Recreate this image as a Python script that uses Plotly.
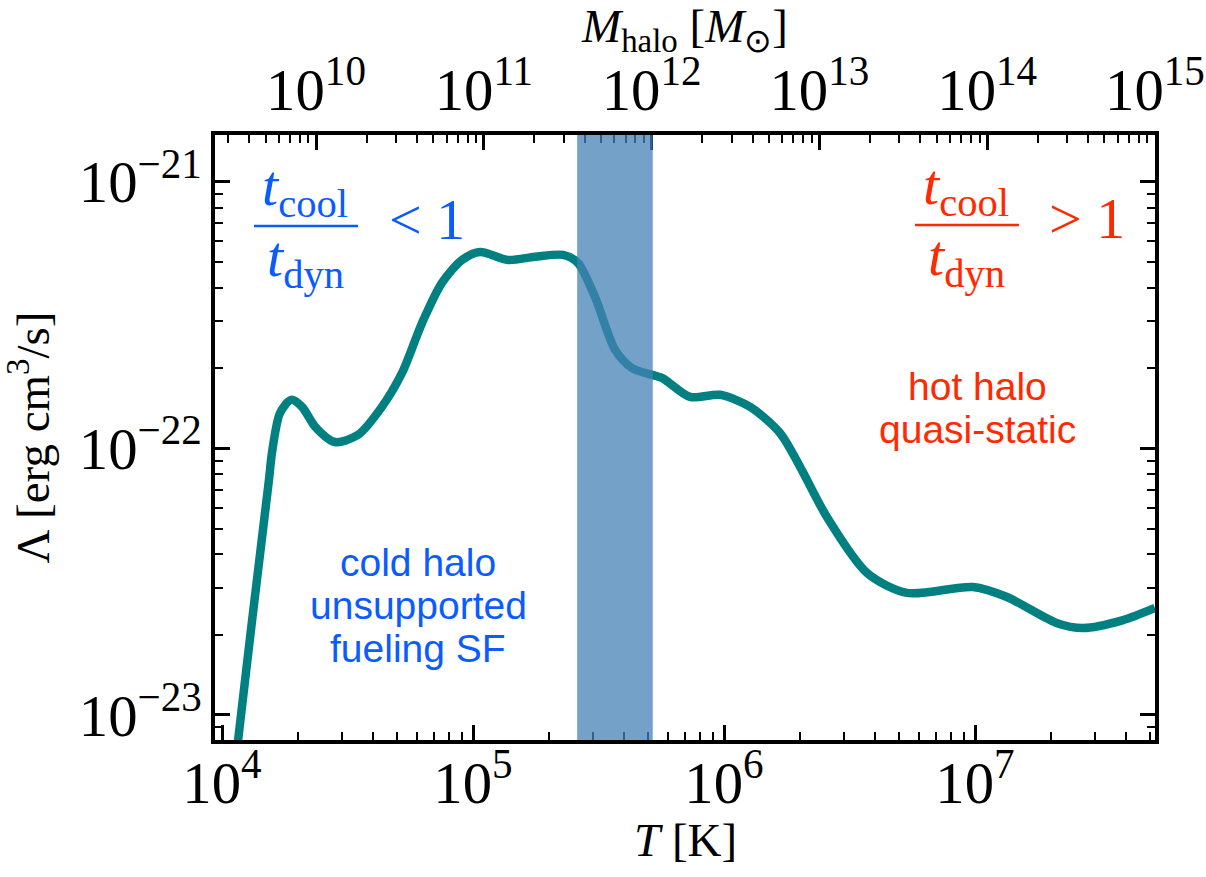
import plotly.graph_objects as go

# ---- data ----
T_K = [1.122e4, 1.159e4, 1.318e4, 1.538e4, 1.581e4, 1.702e4, 1.884e4, 2.084e4,
       2.350e4, 2.818e4, 3.483e4, 4.335e4, 5.212e4, 6.266e4, 7.516e4, 9.036e4,
       1.067e5, 1.377e5, 1.766e5, 2.286e5, 2.618e5, 3.062e5, 3.681e5, 4.295e5,
       5.164e5, 5.662e5, 7.328e5, 9.638e5, 1.271e6, 1.671e6, 2.009e6, 2.570e6,
       3.715e6, 5.358e6, 9.817e6, 1.340e7, 2.123e7, 2.692e7, 3.890e7, 5.212e7]
Lambda = [6.22e-24, 8.05e-24, 2.27e-23, 7.62e-23, 9.62e-23, 1.358e-22, 1.521e-22, 1.432e-22,
          1.205e-22, 1.057e-22, 1.125e-22, 1.432e-22, 1.919e-22, 2.958e-22, 4.178e-22, 5.093e-22,
          5.458e-22, 5.093e-22, 5.236e-22, 5.321e-22, 4.966e-22, 3.698e-22, 2.344e-22, 2.004e-22,
          1.888e-22, 1.841e-22, 1.560e-22, 1.589e-22, 1.432e-22, 1.143e-22, 8.53e-23, 5.53e-23,
          3.41e-23, 2.87e-23, 3.02e-23, 2.77e-23, 2.21e-23, 2.12e-23, 2.27e-23, 2.52e-23]

band_T = [2.6e5, 5.2e5]            # transition band in T [K]
T_range_log = [3.972, 7.717]       # log10 T axis limits
L_range_log = [-23.094, -20.824]   # log10 Lambda axis limits
M_range_log = [9.398, 15.0]        # log10 M_halo axis limits (top)

left_lines = ["cold halo", "unsupported", "fueling SF"]
right_lines = ["hot halo", "quasi-static"]

BLUE = "#0b5cff"
RED = "#ff2a00"
SERIF = "Liberation Serif"
SANS = "Liberation Sans"

W, H = 1206, 877
L, R, T, B = 215, 51, 135, 137
PW, PH = W - L - R, H - T - B


def px(x, y):
    return (x - L) / PW, (H - B - y) / PH


fig = go.Figure()
fig.add_trace(go.Scatter(x=T_K, y=Lambda, mode="lines",
                         line=dict(color="#008080", width=8.5, shape="spline", smoothing=0.8),
                         showlegend=False, hoverinfo="skip"))
fig.add_trace(go.Scatter(x=[10 ** M_range_log[0], 10 ** M_range_log[1]], y=[None, None],
                         xaxis="x2", mode="lines", showlegend=False, hoverinfo="skip"))

fig.add_shape(type="rect", xref="x", yref="paper", x0=band_T[0], x1=band_T[1], y0=0, y1=1,
              fillcolor="rgba(70,130,180,0.75)", line=dict(width=0), layer="above")

axis_common = dict(
    type="log", showgrid=False, zeroline=False, showline=True, linecolor="black", linewidth=3.5,
    ticks="inside", ticklen=15, tickwidth=2.5, tickcolor="black", dtick=1,
    exponentformat="power", tickfont=dict(family=SERIF, size=47, color="black"),
    minor=dict(ticks="inside", ticklen=8, tickwidth=2, tickcolor="black", dtick="D1", showgrid=False),
)

fig.update_layout(
    width=W, height=H, margin=dict(l=L, r=R, t=T, b=B, autoexpand=False),
    paper_bgcolor="white", plot_bgcolor="white",
    xaxis=dict(axis_common, range=T_range_log, mirror=False, ticklabelstandoff=-9),
    xaxis2=dict(axis_common, range=M_range_log, overlaying="x", side="top", anchor="y",
                title=dict(text="<i>M</i><sub>halo</sub> [<i>M</i><sub>⊙</sub>]",
                           font=dict(family=SERIF, size=47, color="black"), standoff=8)),
    yaxis=dict(axis_common, range=L_range_log, mirror="ticks",
               title=dict(text="Λ [erg cm<sup>3</sup>/s]", font=dict(family=SERIF, size=47, color="black"),
                          standoff=18)),
)

annos = []

# x-axis title placed as an annotation
tx, ty = px(690, 840)
annos.append(dict(x=0.5, y=ty, xref="paper", yref="paper", xanchor="center", yanchor="middle",
                  text="<i>T</i> [K]", showarrow=False, font=dict(family=SERIF, size=47, color="black")))


def frac(cx, line_x0, line_x1, line_y, rel_text, rel_cx, rel_y, color):
    x, y = px(cx, line_y)
    annos.append(dict(x=x, y=y, xref="paper", yref="paper", xanchor="center", yanchor="bottom",
                      yshift=-2, text="<i>t</i><sub>cool</sub>",
                      showarrow=False, font=dict(family=SERIF, size=58, color=color)))
    annos.append(dict(x=x, y=y, xref="paper", yref="paper", xanchor="center", yanchor="top",
                      yshift=4, text="<i>t</i><sub>dyn</sub>",
                      showarrow=False, font=dict(family=SERIF, size=58, color=color)))
    rx, ry = px(rel_cx, rel_y)
    annos.append(dict(x=rx, y=ry, xref="paper", yref="paper", xanchor="center", yanchor="middle",
                      text=rel_text, showarrow=False, font=dict(family=SERIF, size=58, color=color)))
    a0, b0 = px(line_x0, line_y)
    a1, _ = px(line_x1, line_y)
    fig.add_shape(type="line", xref="paper", yref="paper", x0=a0, x1=a1, y0=b0, y1=b0,
                  line=dict(color=color, width=2.5))


frac(305, 254, 358, 226, "&lt; 1", 427, 219, BLUE)
frac(966, 915, 1019, 225, "&gt; 1", 1087, 218, RED)

for i, t in enumerate(left_lines):
    x, y = px(418, 562 + 43 * i)
    annos.append(dict(x=x, y=y, xref="paper", yref="paper", xanchor="center", yanchor="middle",
                      text=t, showarrow=False, font=dict(family=SANS, size=39, color=BLUE)))
for i, t in enumerate(right_lines):
    x, y = px(977, 386 + 43 * i)
    annos.append(dict(x=x, y=y, xref="paper", yref="paper", xanchor="center", yanchor="middle",
                      text=t, showarrow=False, font=dict(family=SANS, size=39, color=RED)))

fig.update_layout(annotations=annos)
fig.write_html("out.html")
